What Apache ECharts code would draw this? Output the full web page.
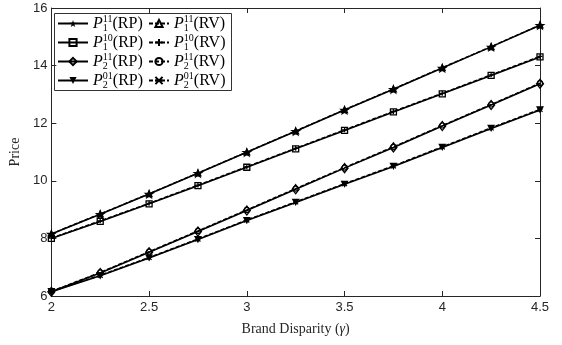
<!DOCTYPE html>
<html>
<head>
<meta charset="utf-8">
<script src="https://cdn.jsdelivr.net/npm/echarts@6/dist/echarts.min.js"></script>
<style>
  html, body { margin: 0; padding: 0; background: #fff; }
  #chart { width: 562px; height: 345px; }
</style>
</head>
<body>
<div id="chart"></div>
<script>
// brand disparity values on the x axis
const gamma = [2, 2.25, 2.5, 2.75, 3, 3.25, 3.5, 3.75, 4, 4.25, 4.5];

// prices (RP = solid, RV = dashed)
const p1_11_rp = [8.15, 8.84, 9.54, 10.26, 10.99, 11.72, 12.46, 13.18, 13.92, 14.65, 15.40];
const p1_11_rv = [8.16, 8.85, 9.55, 10.27, 11.00, 11.73, 12.47, 13.19, 13.93, 14.66, 15.41];
const p1_10_rp = [8.00, 8.59, 9.20, 9.83, 10.47, 11.11, 11.75, 12.39, 13.02, 13.66, 14.30];
const p1_10_rv = [8.01, 8.61, 9.22, 9.85, 10.49, 11.13, 11.77, 12.41, 13.04, 13.68, 14.32];
const p2_11_rp = [6.15, 6.80, 7.52, 8.24, 8.97, 9.71, 10.44, 11.16, 11.90, 12.63, 13.37];
const p2_11_rv = [6.16, 6.82, 7.54, 8.26, 8.99, 9.73, 10.46, 11.18, 11.92, 12.65, 13.39];
const p2_01_rp = [6.15, 6.70, 7.32, 7.96, 8.62, 9.25, 9.88, 10.50, 11.16, 11.82, 12.46];
const p2_01_rv = [6.16, 6.72, 7.34, 7.98, 8.64, 9.27, 9.90, 10.52, 11.18, 11.84, 12.48];

const xTicks = [2, 2.5, 3, 3.5, 4, 4.5];
const yTicks = [6, 8, 10, 12, 14, 16];

// legend labels: [sub, sup, tag]
const labels = {
  p1_11_rp: ['1', '11', 'RP'], p1_11_rv: ['1', '11', 'RV'],
  p1_10_rp: ['1', '10', 'RP'], p1_10_rv: ['1', '10', 'RV'],
  p2_11_rp: ['2', '11', 'RP'], p2_11_rv: ['2', '11', 'RV'],
  p2_01_rp: ['2', '01', 'RP'], p2_01_rv: ['2', '01', 'RV']
};

const star = 'path://M100 0L122.45 69.1L195.1 69.1L136.3 111.8L158.8 180.9L100 138.2L41.2 180.9L63.7 111.8L4.9 69.1L77.55 69.1Z';
const triDown = 'path://M0 0L10 0L5 9Z';
const plus = 'path://M0 5L10 5M5 0L5 10';
const cross = 'path://M0 0L10 10M10 0L0 10M0 5L10 5';

const serif = '"Liberation Serif", "DejaVu Serif", serif';
const sans = '"Liberation Sans", Arial, sans-serif';

function pairs(vals) {
  return gamma.map((g, i) => [g, vals[i]]);
}

function rpSeries(name, vals, symbol, size, filled) {
  return {
    name: name,
    type: 'line',
    data: pairs(vals),
    symbol: symbol,
    symbolSize: size,
    symbolKeepAspect: true,
    z: 3,
    lineStyle: { color: '#000', width: 1.6 },
    itemStyle: {
      color: filled ? '#000' : 'rgba(0,0,0,0)',
      borderColor: '#000',
      borderWidth: filled ? 0 : 1.3
    }
  };
}

function rvSeries(name, vals, symbol, size) {
  return {
    name: name,
    type: 'line',
    data: pairs(vals),
    symbol: symbol,
    symbolSize: size,
    symbolKeepAspect: true,
    z: 4,
    lineStyle: { color: '#000', width: 1.4, type: [4, 2] },
    itemStyle: { color: 'rgba(0,0,0,0)', borderColor: '#000', borderWidth: 1.2 }
  };
}

const legendRich = {
  p: { fontFamily: serif, fontStyle: 'italic', fontSize: 16, color: '#000', lineHeight: 19 },
  sub: { fontFamily: serif, fontSize: 10, color: '#000', lineHeight: 10, width: 0.1, padding: [9, 0, 0, 0] },
  sup: { fontFamily: serif, fontSize: 10, color: '#000', lineHeight: 10, padding: [0, 0, 9, 0] },
  t: { fontFamily: serif, fontSize: 16, color: '#000', lineHeight: 19 }
};

function legendFmt(name) {
  const l = labels[name];
  return '{p|P}{sub|' + l[0] + '}{sup|' + l[1] + '}{t|(' + l[2] + ')}';
}

function legendBlock(left, width, names) {
  return {
    orient: 'vertical',
    left: left,
    top: 14,
    itemWidth: width,
    itemHeight: 9,
    itemGap: 0,
    padding: 0,
    data: names,
    formatter: legendFmt,
    textStyle: { rich: legendRich },
    selectedMode: false
  };
}

const chart = echarts.init(document.getElementById('chart'));

const option = {
  animation: false,
  backgroundColor: '#fff',
  grid: { left: 48, right: 22, top: 8, bottom: 49, show: false },
  legend: [
    legendBlock(57, 30, ['p1_11_rp', 'p1_10_rp', 'p2_11_rp', 'p2_01_rp']),
    legendBlock(148, 20, ['p1_11_rv', 'p1_10_rv', 'p2_11_rv', 'p2_01_rv'])
  ],
  graphic: [{
    type: 'rect',
    left: 54,
    top: 13,
    shape: { width: 177, height: 77 },
    style: { fill: 'rgba(0,0,0,0)', stroke: '#333', lineWidth: 1 },
    z: 1
  }],
  xAxis: [{
    type: 'value',
    min: 2, max: 4.5, interval: 0.5,
    name: '{a|Brand Disparity (}{g|γ}{a|)}',
    nameLocation: 'middle',
    nameGap: 26,
    nameTextStyle: {
      rich: {
        a: { fontFamily: serif, fontSize: 14, color: '#262626' },
        g: { fontFamily: serif, fontSize: 14, fontStyle: 'italic', color: '#262626' }
      }
    },
    axisLine: { onZero: false, lineStyle: { color: '#262626', width: 1 } },
    axisTick: { inside: true, length: 5, lineStyle: { color: '#262626' } },
    axisLabel: {
      fontFamily: sans, fontSize: 13, color: '#262626', margin: 5,
      formatter: v => xTicks.includes(v) ? String(v) : ''
    },
    splitLine: { show: false }
  }, {
    type: 'value',
    position: 'top',
    min: 2, max: 4.5, interval: 0.5,
    axisLine: { onZero: false, lineStyle: { color: '#262626', width: 1 } },
    axisTick: { inside: true, length: 5, lineStyle: { color: '#262626' } },
    axisLabel: { show: false },
    splitLine: { show: false }
  }],
  yAxis: [{
    type: 'value',
    min: 6, max: 16, interval: 2,
    name: 'Price',
    nameLocation: 'middle',
    nameGap: 25,
    nameTextStyle: { fontFamily: serif, fontSize: 14, color: '#262626' },
    axisLine: { onZero: false, lineStyle: { color: '#262626', width: 1 } },
    axisTick: { inside: true, length: 5, lineStyle: { color: '#262626' } },
    axisLabel: {
      fontFamily: sans, fontSize: 13, color: '#262626', margin: 4,
      formatter: v => yTicks.includes(v) ? String(v) : ''
    },
    splitLine: { show: false }
  }, {
    type: 'value',
    position: 'right',
    min: 6, max: 16, interval: 2,
    axisLine: { onZero: false, lineStyle: { color: '#262626', width: 1 } },
    axisTick: { inside: true, length: 5, lineStyle: { color: '#262626' } },
    axisLabel: { show: false },
    splitLine: { show: false }
  }],
  series: [
    rpSeries('p1_11_rp', p1_11_rp, star, 11, true),
    rvSeries('p1_11_rv', p1_11_rv, 'triangle', 6),
    rpSeries('p1_10_rp', p1_10_rp, 'rect', 6, false),
    rvSeries('p1_10_rv', p1_10_rv, plus, 5),
    rpSeries('p2_11_rp', p2_11_rp, 'diamond', [7, 9], false),
    rvSeries('p2_11_rv', p2_11_rv, 'circle', 5),
    rpSeries('p2_01_rp', p2_01_rp, triDown, 8, true),
    rvSeries('p2_01_rv', p2_01_rv, cross, 5)
  ]
};

chart.setOption(option);
</script>
</body>
</html>
